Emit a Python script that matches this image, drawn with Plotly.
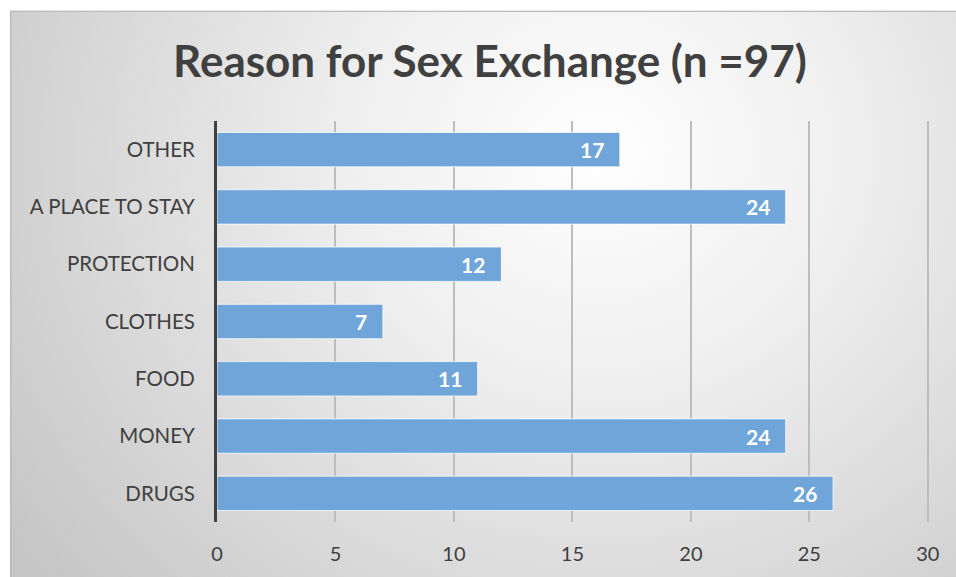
import base64
import plotly.graph_objects as go

# Survey responses: reason given for exchanging sex (n = 97)
categories = ["DRUGS", "MONEY", "FOOD", "CLOTHES", "PROTECTION", "A PLACE TO STAY", "OTHER"]
counts = [26, 24, 11, 7, 12, 24, 17]
x_ticks = [0, 5, 10, 15, 20, 25, 30]
title_text = "Reason for Sex Exchange (n =97)"

W, H = 956, 577
L, R, T, B = 217, 27, 121, 53
pw, ph = W - L - R, H - T - B

# Chart backdrop: radial gradient, framed on the top and left edges
BW, BH = 950, 570
svg = f"""<svg xmlns='http://www.w3.org/2000/svg' width='{BW}' height='{BH}' viewBox='0 0 {BW} {BH}' preserveAspectRatio='none'>
<defs><radialGradient id='g' cx='0.62' cy='0.25' r='0.75' gradientTransform='translate(0.62,0.25) scale(1,1.55) translate(-0.62,-0.25)'>
<stop offset='0' stop-color='#ffffff'/><stop offset='0.35' stop-color='#efefef'/><stop offset='1' stop-color='#c6c6c6'/></radialGradient></defs>
<rect x='0' y='0' width='{BW}' height='{BH}' fill='url(#g)'/>
<path d='M0.75,{BH} L0.75,0.75 L{BW},0.75' fill='none' stroke='#bababa' stroke-width='1.5'/>
</svg>"""
bg_uri = "data:image/svg+xml;base64," + base64.b64encode(svg.encode()).decode()

fig = go.Figure()
fig.add_trace(go.Bar(
    y=categories, x=counts, orientation="h",
    width=0.6,
    marker=dict(color="#6fa5d8", line=dict(color="rgba(255,255,255,0.75)", width=1)),
    hoverinfo="skip",
))

# Value labels sit just inside the end of each bar
for cat, v in zip(categories, counts):
    fig.add_annotation(
        x=v, y=cat, xref="x", yref="y", text=f"<b>{v}</b>",
        showarrow=False, xanchor="right", xshift=-14,
        font=dict(family="Lato", size=21, color="white"),
    )

fig.add_layout_image(dict(
    source=bg_uri, xref="paper", yref="paper",
    x=(10 - L) / pw, y=(H - B - 10) / ph,
    sizex=BW / pw, sizey=BH / ph,
    xanchor="left", yanchor="top", sizing="stretch", layer="below",
))

fig.update_layout(
    width=W, height=H,
    margin=dict(l=L, r=R, t=T, b=B),
    paper_bgcolor="white",
    plot_bgcolor="rgba(0,0,0,0)",
    showlegend=False,
    bargap=0.4,
    title=dict(
        text=f"<b>{title_text}</b>", x=(490 - L) / pw, xref="paper", xanchor="center",
        y=1 - 62 / H, yref="container", yanchor="middle",
        font=dict(family="Lato", size=44, color="#404040"),
    ),
    xaxis=dict(
        range=[0, 30.05], tickvals=x_ticks, showgrid=True,
        gridcolor="#bdbdbd", gridwidth=1.5, zeroline=False, showline=False,
        ticks="", ticklabelstandoff=18,
        tickfont=dict(family="Lato", size=20, color="#404040"),
    ),
    yaxis=dict(
        categoryorder="array", categoryarray=categories,
        showline=True, linecolor="#404040", linewidth=3,
        showgrid=False, ticks="", ticklabelstandoff=15,
        tickfont=dict(family="Lato", size=20.5, color="#404040"),
    ),
)

fig.write_html("out.html")
